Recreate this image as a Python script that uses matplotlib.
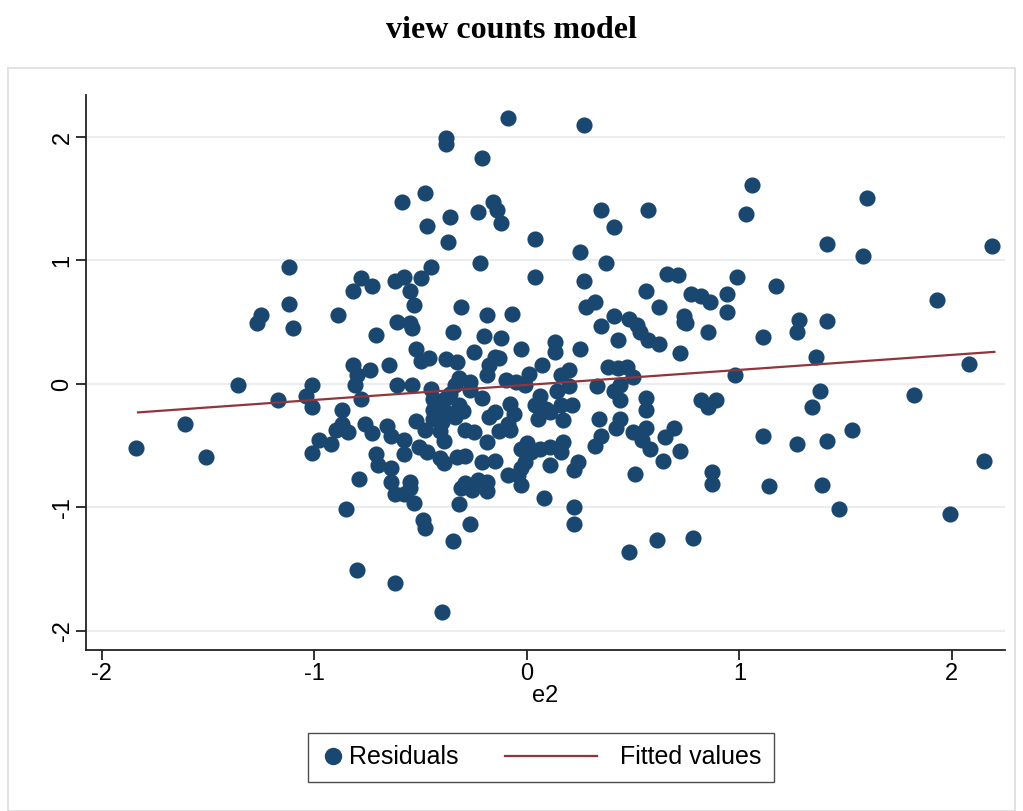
import numpy as np
import matplotlib.pyplot as plt
from matplotlib.patches import Rectangle
from matplotlib.lines import Line2D
from matplotlib.legend_handler import HandlerLine2D

# residuals vs e2
e2 = [-0.09, 0.27, -0.38, -0.38, -0.21, 1.06, 1.60, -0.48, -0.59, -0.16,
      -0.14, -0.23, -0.36, 0.35, 0.57, 1.03, -0.12, -0.47, 0.41, 0.04,
      -0.37, 1.41, 2.19, 1.58, -0.22, -1.12, -0.45, 0.25, 0.37, 0.99,
      0.04, -0.58, -0.50, 0.66, 0.71, -0.78, -0.62, 0.27, -0.73, 1.17,
      -0.82, -0.55, 0.77, 0.82, 0.94, 0.56, 1.93, 0.86, 0.32, -0.53,
      -0.31, 0.28, 0.62, -1.12, -1.25, -1.27, -0.89, -1.10, 0.41, 0.48,
      -0.19, -0.07, 0.94, 0.74, 0.74, 1.28, 1.41, 0.52, -0.61, -0.55,
      -0.54, 0.35, 0.75, 0.53, -0.35, -0.71, 0.85, -0.20, -0.12, 1.27,
      1.11, 0.43, 0.13, 0.57, 0.62, -0.03, -0.25, 0.13, 0.25, -0.52,
      0.72, -0.38, -0.33, -0.50, -0.46, 1.36, -0.15, -0.13, -0.82, -0.65,
      -0.18, 0.07, 0.20, 0.38, 0.43, 0.47, -0.74, -0.80, 0.01, 0.16,
      -0.19, -0.32, 0.98, 0.50, -1.36, -1.01, -0.81, -0.61, -0.54, -0.34,
      -0.27, -0.10, -0.05, -0.45, -0.01, 0.20, 0.33, 0.44, 0.14, 0.41,
      1.38, 1.82, -1.04, -1.17, -0.78, -0.38, -0.21, 0.06, 0.56, 0.44,
      0.56, 0.89, 0.82, 0.85, 1.34, -1.01, -0.41, -0.32, -0.08, 0.04,
      0.16, 0.21, -0.87, -0.44, -0.15, -0.38, 0.11, -0.18, 0.05, 0.17,
      0.34, 0.44, -0.44, -0.40, -0.34, -0.09, -0.87, -0.76, -0.52, -0.48,
      -0.41, -0.29, -0.25, -0.13, -0.08, 0.42, 0.56, 0.69, 1.53, -0.66,
      -0.64, -0.58, -0.90, -0.84, -0.73, 1.11, 1.41, 1.27, 0.35, 0.50,
      0.54, 0.65, 0.32, 0.17, -0.19, 0.00, 0.11, -0.98, -0.92, -1.01,
      -1.84, -1.61, -1.51, -0.51, -0.47, -0.41, -0.33, -0.29, -0.03, 0.02,
      0.06, 0.16, 0.58, 0.72, -0.71, -0.58, 0.24, 0.64, -0.21, -0.15,
      0.11, -0.70, -0.64, -0.39, -0.03, -0.01, 0.22, 0.51, 0.87, -0.04,
      -0.09, -0.79, -0.64, -0.23, -0.19, -0.29, -0.55, -0.62, -0.58, -0.26,
      -0.19, -0.31, -0.55, -0.03, 0.87, 1.14, 1.39, -0.53, -0.32, 0.08,
      -0.85, -0.49, -0.48, -0.27, 0.22, 0.22, 1.47, 1.99, 2.15, 2.08,
      -0.35, 0.48, 0.61, 0.78, -0.80, -0.62, -0.40,
      -0.42, -0.36, -0.30, -0.44, -0.39, -0.27, -0.06, 0.09]
resid = [2.15, 2.10, 1.99, 1.94, 1.83, 1.61, 1.51, 1.55, 1.47, 1.47,
         1.41, 1.39, 1.35, 1.41, 1.41, 1.38, 1.30, 1.28, 1.27, 1.17,
         1.15, 1.13, 1.12, 1.04, 0.98, 0.95, 0.95, 1.07, 0.98, 0.87,
         0.87, 0.87, 0.86, 0.89, 0.88, 0.86, 0.83, 0.83, 0.79, 0.79,
         0.75, 0.75, 0.73, 0.71, 0.73, 0.75, 0.68, 0.66, 0.66, 0.64,
         0.62, 0.62, 0.62, 0.65, 0.56, 0.49, 0.56, 0.45, 0.55, 0.53,
         0.56, 0.57, 0.58, 0.55, 0.50, 0.52, 0.51, 0.48, 0.50, 0.49,
         0.45, 0.47, 0.49, 0.42, 0.42, 0.40, 0.42, 0.39, 0.37, 0.42,
         0.38, 0.36, 0.34, 0.36, 0.32, 0.28, 0.26, 0.26, 0.28, 0.28,
         0.25, 0.20, 0.18, 0.19, 0.21, 0.22, 0.22, 0.21, 0.15, 0.15,
         0.15, 0.15, 0.11, 0.14, 0.13, 0.14, 0.11, 0.07, 0.08, 0.07,
         0.07, 0.05, 0.07, 0.06, -0.01, -0.01, -0.01, -0.01, -0.01, -0.01,
         0.02, 0.03, 0.02, -0.04, -0.01, -0.02, -0.02, -0.01, -0.06, -0.06,
         -0.06, -0.09, -0.10, -0.13, -0.12, -0.11, -0.11, -0.10, -0.11, -0.13,
         -0.21, -0.13, -0.13, -0.19, -0.19, -0.19, -0.17, -0.17, -0.16, -0.17,
         -0.17, -0.17, -0.21, -0.21, -0.23, -0.23, -0.23, -0.27, -0.28, -0.29,
         -0.28, -0.28, -0.28, -0.31, -0.27, -0.32, -0.32, -0.32, -0.30, -0.37,
         -0.38, -0.37, -0.39, -0.38, -0.37, -0.36, -0.36, -0.36, -0.37, -0.34,
         -0.42, -0.45, -0.37, -0.39, -0.40, -0.42, -0.46, -0.49, -0.42, -0.39,
         -0.45, -0.43, -0.50, -0.47, -0.47, -0.48, -0.51, -0.45, -0.49, -0.56,
         -0.52, -0.32, -0.59, -0.51, -0.55, -0.60, -0.59, -0.58, -0.53, -0.55,
         -0.53, -0.55, -0.53, -0.54, -0.57, -0.57, -0.63, -0.62, -0.63, -0.62,
         -0.66, -0.66, -0.68, -0.64, -0.68, -0.63, -0.70, -0.73, -0.71, -0.74,
         -0.74, -0.77, -0.79, -0.78, -0.79, -0.80, -0.79, -0.89, -0.89, -0.86,
         -0.87, -0.84, -0.84, -0.82, -0.81, -0.83, -0.82, -0.96, -0.97, -0.92,
         -1.01, -1.10, -1.17, -1.13, -1.00, -1.13, -1.01, -1.05, -0.62, 0.16,
         -1.27, -1.36, -1.26, -1.25, -1.51, -1.61, -1.85,
         -0.14, -0.08, -0.22, -0.12, -0.46, -0.05, -0.24, -0.20]

# fitted line
fit_x = [-1.83, 2.20]
fit_intercept = -0.0075
fit_slope = 0.1216

navy = '#1a476f'
maroon = '#90353b'

plt.rcParams['font.family'] = ['Liberation Sans', 'DejaVu Sans']
plt.rcParams['axes.unicode_minus'] = False


class MarkerHandler(HandlerLine2D):
    # marker near the left of its handle box
    def get_xdata(self, legend, xdescent, ydescent, width, height, fontsize):
        xd, _ = super().get_xdata(legend, xdescent, ydescent, width, height, fontsize)
        return xd, [-xdescent]


class LongLineHandler(HandlerLine2D):
    # line reaches back into the column gap, like Stata's key
    def get_xdata(self, legend, xdescent, ydescent, width, height, fontsize):
        x = [-xdescent - 3.47 * fontsize, width - xdescent - 0.79 * fontsize]
        return x, x


fig = plt.figure(figsize=(10.23, 8.11), dpi=100)
fig.patches.append(Rectangle((8/1023, 0), 1007/1023, 1-68/811, transform=fig.transFigure,
                             fill=False, edgecolor='#dddddd', linewidth=1.2))
fig.text(0.5, 1-31/811, 'view counts model', ha='center', va='center',
         fontsize=23, fontweight='bold', family='Liberation Serif')

ax = fig.add_axes([86/1023, 1-650/811, 919/1023, 555/811])
ax.scatter(e2, resid, s=135, color=navy, linewidths=0, zorder=3)
fx = np.array(fit_x)
ax.plot(fx, fit_intercept + fit_slope*fx, color=maroon, linewidth=1.6, zorder=4)

ax.set_xlim(-2.075, 2.25)
ax.set_ylim(-2.154, 2.34)
ax.set_xticks([-2, -1, 0, 1, 2])
ax.set_yticks([-2, -1, 0, 1, 2])
ax.grid(axis='y', color='#eaeef0', linewidth=1.5, zorder=0)
ax.spines['top'].set_visible(False)
ax.spines['right'].set_visible(False)
for s in ['left', 'bottom']:
    ax.spines[s].set_color('#222222')
    ax.spines[s].set_linewidth(1.3)
ax.tick_params(labelsize=17, length=7, width=1.3, color='#222222', pad=2)
for lab in ax.get_yticklabels():
    lab.set_rotation(90)
    lab.set_va('center')
ax.set_xlabel('e2', fontsize=17, labelpad=0)

handles = [Line2D([], [], marker='o', linestyle='none', color=navy, markersize=11.5),
           Line2D([], [], color=maroon, linewidth=1.6)]
leg = fig.legend(handles, ['Residuals', 'Fitted values'], loc='center left',
                 bbox_to_anchor=(308/1023, 1-757.5/811), ncol=2, fontsize=18,
                 frameon=True, fancybox=False, edgecolor='#222222',
                 handlelength=1.0, handletextpad=0.13, columnspacing=5.35,
                 borderpad=0.5, borderaxespad=0,
                 handler_map={handles[0]: MarkerHandler(numpoints=1),
                              handles[1]: LongLineHandler()})
leg.get_frame().set_linewidth(1.0)

fig.savefig('out.png', dpi=100)
